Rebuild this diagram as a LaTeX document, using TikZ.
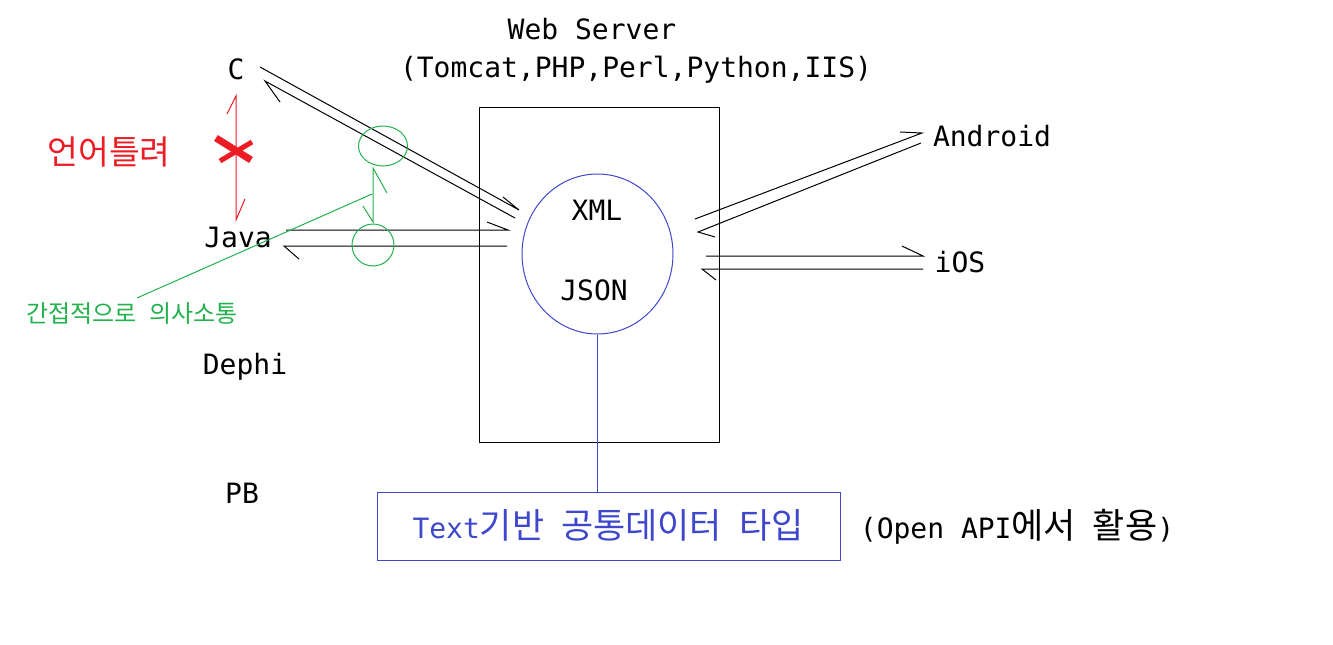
\documentclass[tikz,border=0pt]{standalone}
\usepackage{fontspec}
\setmainfont{DejaVu Sans Mono}
\newfontfamily\kr{Noto Sans CJK KR}
\usetikzlibrary{shapes.geometric}
\definecolor{pred}{HTML}{ED1C24}
\definecolor{pgreen}{HTML}{22B14C}
\definecolor{pblue}{HTML}{3F48CC}
\newcommand\K[1]{{\kr\fontsize{35pt}{35pt}\selectfont #1}}
\begin{document}
\begin{tikzpicture}[x=1pt,y=-1pt,
  lbl/.style={font=\fontsize{28pt}{30pt}\selectfont, inner sep=0pt, anchor=base},
  wire/.style={line width=1pt, black},
  rwire/.style={line width=1pt, pred},
  gwire/.style={line width=1pt, pgreen},
  bwire/.style={line width=1pt, pblue},
  gring/.style={draw=pgreen, line width=1pt, ellipse, inner sep=0pt}]
\useasboundingbox (0,0) rectangle (1333,645);
% server box and data ellipse
\node[draw, line width=1pt, minimum width=240pt, minimum height=335pt, inner sep=0pt] (server) at (599,274.5) {};
\node[draw=pblue, line width=1pt, ellipse, minimum width=151pt, minimum height=160pt, inner sep=0pt] (data) at (597.5,254) {};
\node[draw=pblue, line width=1pt, minimum width=463pt, minimum height=68pt, inner sep=0pt] (tbox) at (608.5,526) {};
\draw[bwire] (data.south) -- (data.south |- tbox.north);
% labels
\node[lbl] (web) at (592,39) {Web Server};
\node[lbl] (tom) at (636,77) {(Tomcat,PHP,Perl,Python,IIS)};
\node[lbl] (c) at (236,79) {C};
\node[lbl] (java) at (238,247) {Java};
\node[lbl] (dephi) at (245,374) {Dephi};
\node[lbl] (pb) at (242,503) {PB};
\node[lbl] (android) at (992,146) {Android};
\node[lbl] (ios) at (960,272) {iOS};
\node[lbl] (xml) at (597,220) {XML};
\node[lbl] (json) at (594,300) {JSON};
\node[lbl, text=pblue] (ttype) at (608,538) {Text\K{기반} \K{공통데이터} \K{타입}};
\node[lbl] (openapi) at (1017,538) {(Open API\K{에서} \K{활용})};
\node[text=pred, font=\kr\fontsize{33.5pt}{34pt}\selectfont, inner sep=0pt] (diff) at (109,152) {언어틀려};
\node[text=pgreen, font=\kr\fontsize{24pt}{26pt}\selectfont, inner sep=0pt] (indirect) at (132,314) {간접적으로\hspace{0.5em}의사소통};
% arrow end points
\coordinate (c1s) at (260,67);  \coordinate (c1e) at (519,210);
\coordinate (c2s) at (515,218); \coordinate (c2e) at (265,81);
\coordinate (j1s) at (286,230); \coordinate (j1e) at (508,230);
\coordinate (j2s) at (507,246); \coordinate (j2e) at (284,246);
\coordinate (a1s) at (695,219); \coordinate (a1e) at (922,133);
\coordinate (a2s) at (921,143); \coordinate (a2e) at (698,232);
\coordinate (i1s) at (706,256); \coordinate (i1e) at (923,256);
\coordinate (i2s) at (923,269); \coordinate (i2e) at (702,269);
% black half-arrows
\draw[wire] (c1s) -- (c1e) -- ++(-16,-13);
\draw[wire] (c2s) -- (c2e) -- ++(15,21);
\draw[wire] (j1s) -- (j1e) -- ++(-21,-8);
\draw[wire] (j2s) -- (j2e) -- ++(15,13);
\draw[wire] (a1s) -- (a1e) -- ++(-22,-1);
\draw[wire] (a2s) -- (a2e) -- ++(17,5);
\draw[wire] (i1s) -- (i1e) -- ++(-21,-10);
\draw[wire] (i2s) -- (i2e) -- ++(14,11);
% red C-Java link with cross
\coordinate (rt) at (236,96); \coordinate (rb) at (236,220);
\draw[rwire] (rt) ++(-9,18) -- (rt) -- (rb) -- ++(9,-21);
\draw[pred, line width=7pt] (216,138) -- (251,160);
\draw[pred, line width=5pt] (220,161) -- (252,142);
% green rings and link
\node[gring, minimum width=49pt, minimum height=40pt] (g1) at (383,146) {};
\node[gring, minimum width=42pt, minimum height=42pt] (g2) at (373,245) {};
\coordinate (gt) at (373,168); \coordinate (gb) at (373,222);
\draw[gwire] (gb) ++(-10,-16) -- (gb) -- (gt) -- ++(14,25);
\coordinate (gm) at (372,194); \coordinate (gl) at (137,298);
\draw[gwire] (gm) -- (gl);
\end{tikzpicture}
\end{document}
